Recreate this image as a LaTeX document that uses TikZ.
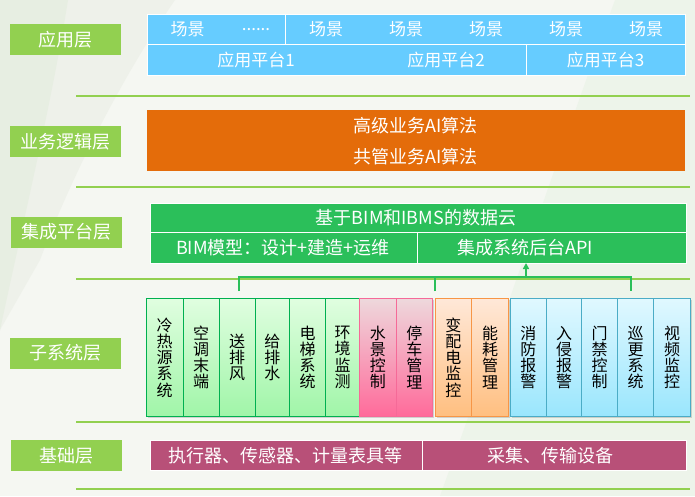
\documentclass[tikz,border=0pt]{standalone}
\usepackage{fontspec}
\setmainfont{Noto Sans CJK SC}
\usetikzlibrary{shadows,arrows.meta}
\definecolor{bg}{HTML}{F5F7F2}
\definecolor{bgdark}{HTML}{E7EEE2}
\definecolor{bgmid}{HTML}{EEF1EA}
\definecolor{bgright}{HTML}{EDF4EA}
\definecolor{lbl}{HTML}{92D050}
\definecolor{sky}{HTML}{66CCFF}
\definecolor{org}{HTML}{E46C0A}
\definecolor{grn}{HTML}{2BBF5A}
\definecolor{mag}{HTML}{B85078}
\definecolor{gline}{HTML}{00B050}
\definecolor{gtop}{HTML}{E0FEE0}
\definecolor{gbot}{HTML}{A0F5A8}
\definecolor{pline}{HTML}{F56A98}
\definecolor{ptop}{HTML}{EED8DC}
\definecolor{pbot}{HTML}{FF6A9A}
\definecolor{oline}{HTML}{F79646}
\definecolor{otop}{HTML}{FFE8D8}
\definecolor{obot}{HTML}{FFBF80}
\definecolor{bline}{HTML}{4BACC6}
\definecolor{btop}{HTML}{E0F8FF}
\definecolor{bbot}{HTML}{9AE6FD}
\tikzset{
  layer/.style={fill=lbl, text=white, minimum width=111pt, minimum height=31pt, inner sep=0pt, outer sep=0pt, font=\fontsize{18}{18}\selectfont},
  cell/.style={anchor=north west, inner sep=0pt, outer sep=0pt, draw=white, line width=1pt},
  wtxt/.style={text=white, inner sep=0pt, font=\fontsize{17}{17}\selectfont},
  btxt/.style={text=white, inner sep=0pt, font=\fontsize{18}{18}\selectfont},
  sepline/.style={draw=lbl, line width=1.2pt},
  tree/.style={draw=grn, line width=2pt},
  sub/.style={anchor=north west, inner sep=0pt, outer sep=0pt, minimum height=118pt, minimum width=36pt, line width=1pt, align=center, text=black, font=\fontsize{16}{16.2}\selectfont, drop shadow={opacity=0.25, shadow xshift=1.5pt, shadow yshift=-1.5pt, fill=black!60}},
  gsub/.style={sub, draw=gline, top color=gtop, bottom color=gbot},
  psub/.style={sub, draw=pline, top color=ptop, bottom color=pbot},
  osub/.style={sub, draw=oline, top color=otop, bottom color=obot},
  bsub/.style={sub, draw=bline, top color=btop, bottom color=bbot},
}
\begin{document}
\begin{tikzpicture}[x=1pt,y=-1pt]
\useasboundingbox (0,0) rectangle (695,496);
% background
\fill[bg] (0,0) rectangle (695,496);
\fill[bgmid] (68,0) -- (175,0) .. controls (120,80) and (70,180) .. (40,260) -- (0,330) -- (0,0) -- cycle;
\fill[bgdark] (0,0) -- (68,0) .. controls (52,100) and (28,200) .. (0,330) -- cycle;
\fill[bgright] (615,0) -- (695,0) -- (695,496) -- (440,496) .. controls (500,330) and (560,150) .. cycle;

% separators
\foreach \yy in {96,187,279,422,489} \draw[sepline] (76,\yy) -- (690,\yy);

% layer labels
\node[layer] (L1) at (65.5,39.5) {应用层};
\node[layer] (L2) at (65.5,141.5) {业务逻辑层};
\node[layer] (L3) at (66,232) {集成平台层};
\node[layer] (L4) at (65.5,353) {子系统层};
\node[layer] (L5) at (66.5,455.5) {基础层};

% application layer
\node[cell, fill=sky, minimum width=138pt, minimum height=30.5pt] (sA) at (147,14) {};
\node[cell, fill=sky, minimum width=400pt, minimum height=30.5pt] (sB) at (285,14) {};
\node[cell, fill=sky, minimum width=379pt, minimum height=31pt] (pA) at (147,44.5) {};
\node[cell, fill=sky, minimum width=159pt, minimum height=31pt] (pB) at (526,44.5) {};
\node[wtxt] (s1) at (187.5,29.5) {场景};
\node[wtxt] (sd) at (256,29.5) {......};
\node[wtxt] (s2) at (326,29.5) {场景};
\node[wtxt] (s3) at (406,29.5) {场景};
\node[wtxt] (s4) at (486,29.5) {场景};
\node[wtxt] (s5) at (566,29.5) {场景};
\node[wtxt] (s6) at (646,29.5) {场景};
\node[wtxt] (p1) at (256,60) {应用平台1};
\node[wtxt] (p2) at (446,60) {应用平台2};
\node[wtxt] (p3) at (605.5,60) {应用平台3};

% business logic layer
\node[cell, draw=none, fill=org, minimum width=538pt, minimum height=61pt] (biz) at (147,110) {};
\node[btxt] (ai1) at (415.5,126) {高级业务AI算法};
\node[btxt] (ai2) at (415.5,157) {共管业务AI算法};

% integration platform layer
\node[cell, fill=grn, minimum width=536pt, minimum height=29.5pt] (cloud) at (150,203) {};
\node[cell, fill=grn, minimum width=267.5pt, minimum height=30.5pt] (bim) at (150,232.5) {};
\node[cell, fill=grn, minimum width=268.5pt, minimum height=30.5pt] (api) at (417.5,232.5) {};
\node[btxt] (cloudt) at (416,218) {基于BIM和IBMS的数据云};
\node[btxt] (bimt) at (283,248) {BIM模型：设计+建造+运维};
\node[btxt] (apit) at (525,248) {集成系统后台API};

% subsystem layer
\node[gsub, minimum width=37pt] (g1) at (146,298.5) {冷\\热\\源\\系\\统};
\node[gsub] (g2) at (183,298.5) {空\\调\\末\\端};
\node[gsub] (g3) at (219,298.5) {送\\排\\风};
\node[gsub, minimum width=34.5pt] (g4) at (255,298.5) {给\\排\\水};
\node[gsub] (g5) at (289.5,298.5) {电\\梯\\系\\统};
\node[gsub, minimum width=34pt] (g6) at (325.5,298.5) {环\\境\\监\\测};
\node[psub, minimum width=36.5pt] (q1) at (359.5,298.5) {水\\景\\控\\制};
\node[psub, minimum width=36.7pt] (q2) at (396,298.5) {停\\车\\管\\理};
\node[osub, minimum width=36.5pt] (o1) at (435,298.5) {变\\配\\电\\监\\控};
\node[osub, minimum width=37pt] (o2) at (471.5,298.5) {能\\耗\\管\\理};
\node[bsub, minimum width=36.5pt] (b1) at (510,298.5) {消\\防\\报\\警};
\node[bsub, minimum width=35pt] (b2) at (546.5,298.5) {入\\侵\\报\\警};
\node[bsub] (b3) at (581.5,298.5) {门\\禁\\控\\制};
\node[bsub] (b4) at (617.5,298.5) {巡\\更\\系\\统};
\node[bsub, minimum width=37pt] (b5) at (653.5,298.5) {视\\频\\监\\控};

% connector tree
\coordinate (d1) at (239,291);
\coordinate (d2) at (435,291);
\coordinate (d3) at (631,291);
\coordinate (t1) at (239,277);
\coordinate (t3) at (631,277);
\coordinate (tj) at (526,277);
\draw[tree, line join=miter] (d1) -- (t1) -- (t3) -- (d3);
\draw[tree] (d2) -- (d2 |- t1);
\draw[tree, -{Triangle[length=6pt,width=6pt]}] (tj) -- (tj |- api.south);

% base layer
\node[cell, fill=mag, minimum width=272.5pt, minimum height=29.5pt] (base1) at (150,440.5) {};
\node[cell, fill=mag, minimum width=263.5pt, minimum height=29.5pt] (base2) at (422.5,440.5) {};
\node[btxt] (base1t) at (285.5,455.5) {执行器、传感器、计量表具等};
\node[btxt] (base2t) at (550,455.5) {采集、传输设备};
\end{tikzpicture}
\end{document}
